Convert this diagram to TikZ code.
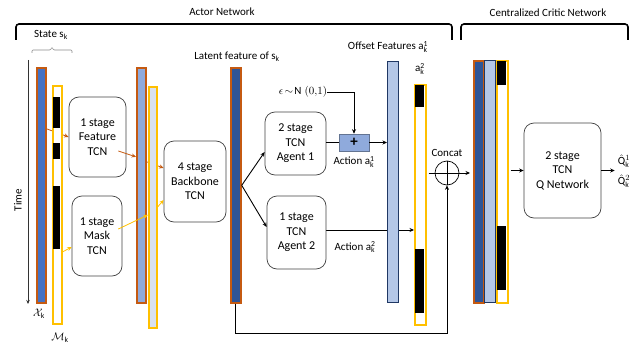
\documentclass[tikz,border=0pt]{standalone}
\usepackage{fontspec}
\setmainfont{Carlito}
\usetikzlibrary{arrows.meta,calc}
\definecolor{myorange}{HTML}{C55A11}
\definecolor{myyellow}{HTML}{FFC000}
\definecolor{xblue}{HTML}{4472C4}
\definecolor{dblue}{HTML}{2F5597}
\definecolor{lblue}{HTML}{8FAADC}
\definecolor{oblue}{HTML}{B4C7E7}
\definecolor{pale}{HTML}{D9E1F0}
\definecolor{mynavy}{HTML}{203864}
\pgfdeclarelayer{bg}
\pgfsetlayers{bg,main}
\newcommand{\mybar}[6]{\node[#1, anchor=north west, minimum width={(#4-#2)*1pt}, minimum height={(#5-#3)*1pt}] (#6) at (#2,#3) {};}
\begin{document}
\begin{tikzpicture}[x=1pt,y=-1pt, font=\fontsize{11}{14}\selectfont,
 bar/.style={draw, rectangle, inner sep=0pt, line width=1.7pt},
 obar/.style={bar, draw=myorange},
 ybar/.style={bar, draw=myyellow, fill=white},
 nbar/.style={bar, draw=mynavy, line width=1.4pt},
 tcn/.style={draw=black!75, line width=0.7pt, rounded corners=10pt, align=center, inner sep=1pt, font=\fontsize{12}{14.5}\selectfont},
 arr/.style={-{Stealth[length=4.5pt,width=4pt]}, line width=0.9pt},
 oarr/.style={arr, draw=myorange, line width=0.8pt},
 yarr/.style={arr, draw=myyellow, line width=0.8pt},
 lbl/.style={inner sep=0pt},
 brk/.style={line width=1.6pt, rounded corners=3pt}]
\useasboundingbox (0,0) rectangle (642,345);

% top brackets
\draw[brk] (16,40) -- (16,24) -- (452,24) -- (452,40);
\draw[brk] (461,40) -- (461,24) -- (628,24) -- (628,40);
\node[lbl] (actor) at (222,12) {Actor Network};
\node[lbl] (critic) at (548,13) {Centralized Critic Network};

% state label and bracket
\node[lbl] (state) at (51,35) {State $\mathrm{s_k}$};
\draw[black!45, line width=0.6pt, rounded corners=1pt] (32,53) -- (32,50) -- (50.5,50) -- (52,47) -- (53.5,50) -- (72,50) -- (72,53);

% time axis
\coordinate (t0) at (28,60);
\coordinate (t1) at (28,304);
\draw[-{Stealth[length=4pt,width=3.5pt]}, line width=0.6pt, black!80] (t0) -- (t1);
\node[rotate=90, lbl] (time) at (18,200) {Time};

% input bars
\mybar{obar, fill=xblue}{36}{67}{45}{302}{X}
\mybar{ybar}{52}{85}{61}{323}{M}
\fill[black] (52.9,97) rectangle (60.1,128);
\fill[black] (52.9,143) rectangle (60.1,159);
\fill[black] (52.9,186) rectangle (60.1,249);
\node[lbl] (xlab) at (39,314) {$\mathcal{X}_\mathrm{k}$};
\node[lbl] (mlab) at (60,338) {$\mathcal{M}_\mathrm{k}$};

% feature / mask TCN
\node[tcn, minimum width=57pt, minimum height=80pt] (F) at (97.5,137) {1 stage\\Feature\\TCN};
\node[tcn, minimum width=50pt, minimum height=80pt] (MB) at (97,236) {1 stage\\Mask\\TCN};

% middle bars
\mybar{obar, fill=lblue}{136}{67}{145}{302}{B2}
\mybar{bar, draw=myyellow, fill=pale}{148}{86}{156}{327}{B3}

% backbone
\node[tcn, minimum width=62pt, minimum height=81pt] (BB) at (195,181.5) {4 stage\\Backbone\\TCN};

% latent bar
\mybar{obar, fill=dblue}{230}{67}{240}{302}{L}
\node[lbl] (latent) at (237,57) {Latent feature of $\mathrm{s_k}$};

% agents
\node[tcn, minimum width=61pt, minimum height=63pt] (A1) at (295.5,143.5) {2 stage\\TCN\\Agent 1};
\node[tcn, minimum width=59pt, minimum height=73pt] (A2) at (296.5,232.5) {1 stage\\TCN\\Agent 2};

% plus box and epsilon
\node[draw=mynavy!70, fill=lblue, minimum width=30pt, minimum height=17pt, inner sep=0pt, line width=0.6pt, font=\bfseries\fontsize{15}{15}\selectfont] (P) at (354,142.5) {+};
\node[lbl] (eps) at (303,92) {$\epsilon\!\sim\!\mathrm{N}\;(0{,}1)$};
\node[lbl] (act1) at (354,162) {Action $\mathrm{a^1_k}$};
\node[lbl] (act2) at (355,247) {Action $\mathrm{a^2_k}$};

% offset bars
\mybar{nbar, fill=oblue}{387}{61}{398}{302}{O}
\node[lbl] (offlab) at (388,47) {Offset Features $\mathrm{a^1_k}$};
\mybar{ybar}{414}{84}{425}{324}{K2}
\fill[black] (414.9,84.9) rectangle (424.1,107);
\fill[black] (414.9,249) rectangle (424.1,313);
\node[lbl] (a2lab) at (420,69) {$\mathrm{a^2_k}$};

% concat
\node[draw, circle, minimum size=24pt, inner sep=0pt, line width=0.7pt] (C) at (447,173) {};
\draw[line width=0.7pt] (C.north) -- (C.south) (C.west) ++(-6,0) -- (C.east);
\node[lbl] (concat) at (447,153) {Concat};
\coordinate (bot) at (447,333);
\coordinate (a2y) at (0,230);

% critic bars
\mybar{obar, fill=dblue}{473}{60}{483}{302}{CA}
\mybar{nbar, fill=oblue}{484}{60}{495}{302}{CB}
\mybar{ybar}{496}{60}{507}{302}{CC}
\fill[black] (496.9,60.9) rectangle (506.1,85);
\fill[black] (496.9,226) rectangle (506.1,290);

% Q network
\node[tcn, minimum width=77pt, minimum height=95pt] (Q) at (562.5,170.5) {2 stage\\TCN\\Q Network};
\node[lbl] (q1) at (624,161) {$\hat{\mathrm{Q}}^1_\mathrm{k}$};
\node[lbl] (q2) at (624,181) {$\hat{\mathrm{Q}}^2_\mathrm{k}$};

% connectors behind bars
\begin{pgfonlayer}{bg}
\draw[oarr] ([yshift=56.5pt]X.east) -- (F.west);
\draw[oarr] ([yshift=23.5pt]B2.east) -- ([yshift=13.5pt]BB.west);
\draw[arr] (A2.east |- a2y) -- (K2.west |- a2y);
\end{pgfonlayer}

% connectors on top
\draw[oarr] ([xshift=-8pt,yshift=-14pt]F.east) -- ([yshift=28.5pt]B2.west);
\draw[yarr] ([yshift=-47pt]M.east) -- ([yshift=-11pt]MB.west);
\draw[yarr] ([xshift=-4pt,yshift=7pt]MB.east) -- ([yshift=-7.5pt]B3.west);
\draw[yarr] ([yshift=0.5pt]B3.east) -- ([yshift=-18.5pt]BB.west);
\draw[arr] (L.east) -- ([yshift=-8.5pt]A1.west);
\draw[arr] (L.east) -- ([yshift=5.5pt]A2.west);
\draw[line width=0.9pt] (A1.east |- P.west) -- (P.west);
\draw[arr] (P.east) -- (P.east -| O.west);
\draw[arr] (eps.east) -| (P.north);
\draw[arr] (L.south) |- (bot) -- (C.south);
\draw[arr] (C.east) -- ([xshift=-3pt]C.east -| CA.west);
\draw[arr] ([xshift=2pt]CC.east |- Q.west) -- (Q.west);
\draw[arr] (Q.east) -- ([xshift=-3pt]Q.east -| q1.west);
\end{tikzpicture}
\end{document}
